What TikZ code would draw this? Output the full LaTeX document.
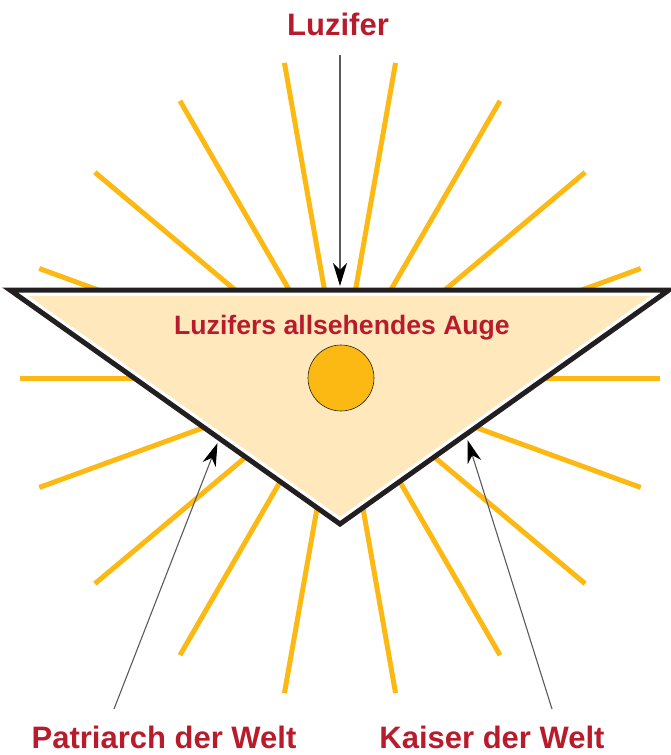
\documentclass[tikz,border=0pt]{standalone}
\usepackage{fontspec}
\setmainfont{Liberation Sans}
\usetikzlibrary{arrows.meta}
\definecolor{raygold}{RGB}{253,185,19}
\definecolor{beige}{RGB}{255,232,188}
\definecolor{blk}{RGB}{35,31,32}
\definecolor{lblred}{RGB}{184,28,44}
\definecolor{arrgray}{RGB}{90,90,92}
\tikzset{
  raystyle/.style={draw=raygold, line width=5pt},
  outline/.style={draw=blk, line width=5pt, line join=miter},
  lbl/.style={text=lblred, inner sep=0pt, anchor=base, font=\fontsize{31}{31}\selectfont\bfseries},
  innerlbl/.style={text=lblred, inner sep=0pt, anchor=base, font=\fontsize{26.6}{26.6}\selectfont\bfseries},
  pointer/.style={draw=arrgray, line width=1.1pt, -{Stealth[length=23pt,width=14pt,inset=7pt,color=black,fill=black]}}
}
\begin{document}
\begin{tikzpicture}[x=1pt,y=-1pt]
\useasboundingbox (0,0) rectangle (671,755);
% rays
\foreach \a in {0,20,...,340}
  \draw[raystyle, shift={(340,378)}] (\a:60) -- (\a:320);
% triangle corners
\coordinate (A) at (10,290);
\coordinate (B) at (669,290);
\coordinate (C) at (340,524);
\coordinate (Ai) at (28.8,296);
\coordinate (Bi) at (650.2,296);
\coordinate (Ci) at (340,516.7);
\fill[white] (A) -- (B) -- (C) -- cycle;
\fill[beige] (Ai) -- (Bi) -- (Ci) -- cycle;
% sun / eye
\node[circle, draw=blk, line width=0.6pt, fill=raygold, minimum size=66pt, inner sep=0pt] (eye) at (341,378) {};
\node[innerlbl] (auge) at (342,334) {Luzifers allsehendes Auge};
\draw[outline] (A) -- (B) -- (C) -- cycle;
% labels
\node[lbl] (luz) at (338,35) {Luzifer};
\node[lbl] (pat) at (164,748) {Patriarch der Welt};
\node[lbl] (kai) at (492,748) {Kaiser der Welt};
% arrows
\coordinate (luzs) at (340,55);
\coordinate (luzt) at (340,286);
\coordinate (pats) at (114,709);
\coordinate (patt) at (217.5,443);
\coordinate (kais) at (552,709);
\coordinate (kait) at (467.5,440);
\draw[pointer] (luzs) -- (luzt);
\draw[pointer] (pats) -- (patt);
\draw[pointer] (kais) -- (kait);
\end{tikzpicture}
\end{document}
